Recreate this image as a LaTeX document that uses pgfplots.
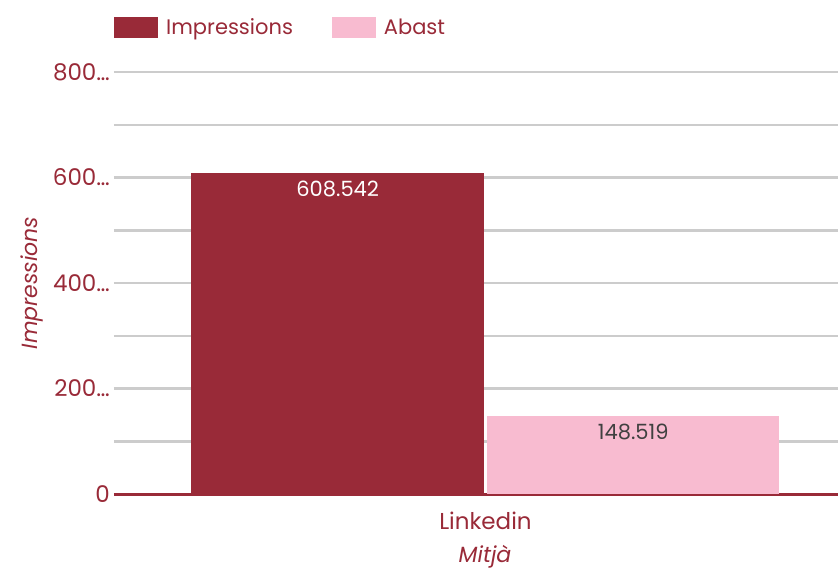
\documentclass[border=0pt]{standalone}
\usepackage{fontspec}
\setmainfont{Poppins}
\usepackage{pgfplots}
\pgfplotsset{compat=1.18}

\definecolor{wine}{RGB}{153,42,56}
\definecolor{rosa}{RGB}{248,187,208}
\definecolor{grid}{RGB}{204,204,204}
\definecolor{labelgray}{RGB}{64,64,64}

\begin{document}
\begin{tikzpicture}
\begin{axis}[
  scale only axis,
  width=724bp, height=422bp,
  at={(0,0)},
  xmin=-1.257, xmax=1.193,
  ymin=0, ymax=800000,
  ybar, bar width=0.99,
  axis line style={draw=none},
  major tick length=0pt,
  xtick={0}, xticklabels={Linkedin},
  ytick={100000,200000,300000,400000,500000,600000,700000,800000},
  yticklabels={,200…,,400…,,600…,,800…},
  extra y ticks={0}, extra y tick labels={0},
  extra y tick style={grid style={draw=wine, line width=3bp}},
  scaled y ticks=false,
  ymajorgrids=true,
  grid style={draw=grid, line width=2.5bp},
  tick label style={font=\fontsize{23bp}{27bp}\selectfont, text=wine},
  yticklabel style={anchor=east, inner sep=0pt, xshift=-4bp},
  xticklabel style={anchor=center, yshift=-27bp},
  ylabel={\itshape Impressions},
  ylabel style={at={(axis description cs:-0.1133,0.5)}, anchor=center,
    font=\fontsize{22bp}{26bp}\selectfont, text=wine},
  xlabel={\itshape Mitjà},
  xlabel style={at={(axis description cs:0.5,0)}, anchor=center, xshift=9bp, yshift=-63bp,
    font=\fontsize{22bp}{26bp}\selectfont, text=wine},
  legend columns=2,
  legend style={at={(axis description cs:0,1)}, anchor=west, yshift=45bp,
    draw=none, fill=none, inner sep=0pt,
    font=\fontsize{21bp}{25bp}\selectfont, text=wine,
    /tikz/every odd column/.append style={column sep=6bp},
    /tikz/every even column/.append style={column sep=37bp}},
  legend image code/.code={\fill[#1] (0bp,-10.5bp) rectangle (44bp,10.5bp);},
  point meta=explicit symbolic,
  nodes near coords={\pgfplotspointmeta},
  every node near coord/.append style={anchor=north, inner sep=0pt, yshift=-8bp,
    font=\fontsize{21bp}{25bp}\selectfont},
]
\addplot[fill=wine, draw=none, bar shift=0pt,
  every node near coord/.append style={text=white}]
  coordinates {(-0.5,608542) [608.542]};
\addplot[fill=rosa, draw=none, bar shift=0pt,
  every node near coord/.append style={text=labelgray}]
  coordinates {(0.5,148519) [148.519]};
\legend{Impressions, Abast}
\end{axis}
\pgfresetboundingbox
\useasboundingbox (-114bp,-80bp) rectangle (724bp,494bp);
\end{tikzpicture}
\end{document}
